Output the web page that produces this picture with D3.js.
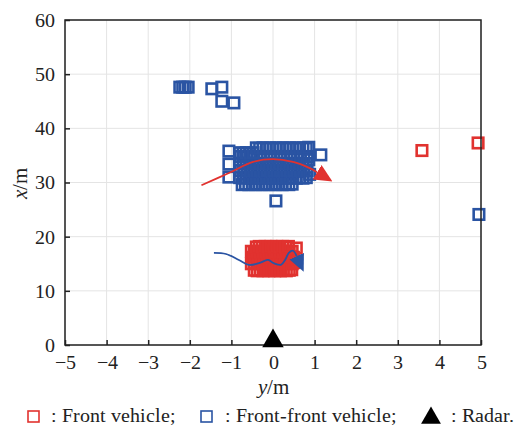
<!DOCTYPE html>
<html>
<head>
<meta charset="utf-8">
<script src="https://cdn.jsdelivr.net/npm/d3@7"></script>
<style>
  @font-face { font-family: "ChartSerif"; src: local("Liberation Serif"), local("LiberationSerif"); font-style: normal; }
  @font-face { font-family: "ChartSerif"; src: local("Liberation Serif Italic"), local("LiberationSerif-Italic"); font-style: italic; }
</style>
</head>
<body style="margin:0">
<svg id="chart" width="523" height="426"></svg>
<script>
// axis ticks
const yTicks = [-5, -4, -3, -2, -1, 0, 1, 2, 3, 4, 5];
const xTicks = [0, 10, 20, 30, 40, 50, 60];

// front vehicle detections [y, x] in metres
const frontPts = [
  [-0.45,13.8],[-0.38,13.7],[-0.31,13.8],[-0.24,13.7],[-0.17,13.8],[-0.10,13.7],[-0.03,13.8],[0.04,13.7],[0.11,13.8],[0.18,13.7],[0.25,13.8],[0.32,13.7],[0.39,13.8],[0.45,13.9],
  [-0.52,15.0],[-0.45,15.1],[-0.38,15.0],[-0.31,15.1],[-0.24,15.0],[-0.17,15.1],[-0.10,15.0],[-0.03,15.1],[0.04,15.0],[0.11,15.1],[0.18,15.0],[0.25,15.1],[0.32,15.0],[0.39,15.1],[0.46,15.0],[0.50,15.2],
  [-0.49,16.2],[-0.42,16.3],[-0.35,16.2],[-0.28,16.3],[-0.21,16.2],[-0.14,16.3],[-0.07,16.2],[0.00,16.3],[0.07,16.2],[0.14,16.3],[0.21,16.2],[0.28,16.3],[0.35,16.2],[0.42,16.3],[0.49,16.2],
  [-0.52,17.3],[-0.45,17.2],[-0.38,17.3],[-0.31,17.2],[-0.24,17.3],[-0.17,17.2],[-0.10,17.3],[-0.03,17.2],[0.04,17.3],[0.11,17.2],[0.18,17.3],[0.25,17.2],[0.32,17.3],[0.39,17.2],[0.46,17.3],
  [-0.40,18.1],[-0.33,18.2],[-0.26,18.1],[-0.19,18.2],[-0.12,18.1],[-0.05,18.2],[0.02,18.1],[0.09,18.2],[0.16,18.1],[0.23,18.2],[0.30,18.1],[0.37,18.2],[0.56,17.9],
  [3.58,35.9],[4.93,37.3]
];

// front-front vehicle detections [y, x] in metres
const frontFrontPts = [
  [-0.74,29.6],[-0.66,29.7],[-0.58,29.6],[-0.50,29.7],[-0.42,29.6],[-0.34,29.7],[-0.26,29.6],[-0.18,29.7],[-0.10,29.6],[-0.02,29.7],[0.06,29.6],[0.14,29.7],[0.22,29.6],[0.30,29.7],[0.38,29.6],[0.46,29.7],
  [-0.80,30.9],[-0.72,30.8],[-0.64,30.9],[-0.56,30.8],[-0.48,30.9],[-0.40,30.8],[-0.32,30.9],[-0.24,30.8],[-0.16,30.9],[-0.08,30.8],[0.00,30.9],[0.08,30.8],[0.16,30.9],[0.24,30.8],[0.32,30.9],[0.40,30.8],[0.48,30.9],[0.56,30.8],[0.64,30.9],[0.72,30.8],[0.80,30.9],
  [-0.78,32.2],[-0.70,32.1],[-0.62,32.2],[-0.54,32.1],[-0.46,32.2],[-0.38,32.1],[-0.30,32.2],[-0.22,32.1],[-0.14,32.2],[-0.06,32.1],[0.02,32.2],[0.10,32.1],[0.18,32.2],[0.26,32.1],[0.34,32.2],[0.42,32.1],[0.50,32.2],[0.58,32.1],[0.66,32.2],[0.74,32.1],[0.82,32.2],
  [-0.80,33.5],[-0.72,33.4],[-0.64,33.5],[-0.56,33.4],[-0.48,33.5],[-0.40,33.4],[-0.32,33.5],[-0.24,33.4],[-0.16,33.5],[-0.08,33.4],[0.00,33.5],[0.08,33.4],[0.16,33.5],[0.24,33.4],[0.32,33.5],[0.40,33.4],[0.48,33.5],[0.56,33.4],[0.64,33.5],[0.72,33.4],[0.80,33.5],
  [-0.78,34.8],[-0.70,34.7],[-0.62,34.8],[-0.54,34.7],[-0.46,34.8],[-0.38,34.7],[-0.30,34.8],[-0.22,34.7],[-0.14,34.8],[-0.06,34.7],[0.02,34.8],[0.10,34.7],[0.18,34.8],[0.26,34.7],[0.34,34.8],[0.42,34.7],[0.50,34.8],[0.58,34.7],[0.66,34.8],[0.74,34.7],[0.82,34.8],
  [-0.80,35.5],[-0.72,35.4],[-0.64,35.5],[-0.56,35.4],[-0.48,35.5],
  [-0.40,36.4],[-0.32,36.3],[-0.24,36.4],[-0.16,36.3],[-0.08,36.4],[0.00,36.3],[0.08,36.4],[0.16,36.3],[0.24,36.4],[0.32,36.3],[0.40,36.4],[0.48,36.3],[0.56,36.4],[0.64,36.3],[0.72,36.4],[0.80,36.3],
  [-1.06,35.8],[-1.06,33.4],[-1.06,31.0],[0.86,36.5],[0.86,34.2],[0.88,31.5],[1.15,35.1],
  [0.07,26.6],[4.95,24.1],
  [-2.24,47.6],[-2.17,47.6],[-2.11,47.6],[-2.04,47.6],
  [-1.47,47.3],[-1.23,47.6],[-1.23,45.0],[-0.94,44.7]
];

// tracked trajectories [y, x]
const frontTrack = [[-1.72,29.5],[-1.06,31.75],[-0.48,33.8],[0.0,34.3],[0.48,33.8],[0.87,32.7],[1.06,31.9]];
const frontFrontTrack = [[-1.42,17.0],[-1.13,16.8],[-0.82,15.7],[-0.58,14.8],[-0.34,15.1],[-0.12,15.7],[0.02,15.1],[0.19,14.8],[0.29,15.7],[0.38,17.0],[0.48,17.4],[0.57,16.4]];

const radar = [[0, 0]];

const red = "#e1322f", blue = "#2a54a3";
const serif = "ChartSerif, Liberation Serif, Tinos, FreeSerif, serif";

const svg = d3.select("#chart");
const mLeft = 65, mRight = 481, mTop = 20, mBottom = 345;

const x = d3.scaleLinear().domain([-5, 5]).range([mLeft, mRight]);
const y = d3.scaleLinear().domain([0, 60]).range([mBottom, mTop]);

// grid
svg.append("g").selectAll("line").data(yTicks).enter().append("line")
  .attr("x1", d => x(d)).attr("x2", d => x(d)).attr("y1", mTop).attr("y2", mBottom)
  .attr("stroke", "#e4e4e4").attr("stroke-width", 1);
svg.append("g").selectAll("line").data(xTicks).enter().append("line")
  .attr("x1", mLeft).attr("x2", mRight).attr("y1", d => y(d)).attr("y2", d => y(d))
  .attr("stroke", "#e4e4e4").attr("stroke-width", 1);

// detections
const sq = 10.5;
function drawSquares(pts, color) {
  svg.append("g").selectAll("rect").data(pts).enter().append("rect")
    .attr("x", d => x(d[0]) - sq / 2).attr("y", d => y(d[1]) - sq / 2)
    .attr("width", sq).attr("height", sq)
    .attr("fill", "none").attr("stroke", color).attr("stroke-width", 2.6);
}
drawSquares(frontPts, red);
drawSquares(frontFrontPts, blue);

// arrows
const defs = svg.append("defs");
function arrow(id, color, len, wid) {
  defs.append("marker").attr("id", id)
    .attr("markerUnits", "userSpaceOnUse")
    .attr("markerWidth", len + 2).attr("markerHeight", wid + 2)
    .attr("viewBox", `0 ${-wid / 2} ${len} ${wid}`)
    .attr("refX", 0).attr("refY", 0).attr("orient", "auto")
    .append("path").attr("d", `M0,${-wid / 2}L${len},0L0,${wid / 2}Z`).attr("fill", color);
}
arrow("arrRed", red, 16, 15);
arrow("arrBlue", blue, 15, 14);

const line = d3.line().x(d => x(d[0])).y(d => y(d[1])).curve(d3.curveCatmullRom);
svg.append("path").datum(frontTrack).attr("d", line)
  .attr("fill", "none").attr("stroke", red).attr("stroke-width", 1.8)
  .attr("marker-end", "url(#arrRed)");
svg.append("path").datum(frontFrontTrack).attr("d", line)
  .attr("fill", "none").attr("stroke", blue).attr("stroke-width", 1.8)
  .attr("marker-end", "url(#arrBlue)");

// frame
svg.append("rect").attr("x", mLeft).attr("y", mTop).attr("width", mRight - mLeft).attr("height", mBottom - mTop)
  .attr("fill", "none").attr("stroke", "#222").attr("stroke-width", 1.5);

// axes, ticks pointing inward
const xAxis = svg.append("g").attr("transform", `translate(0,${mBottom})`)
  .call(d3.axisBottom(x).tickValues(yTicks).tickSizeInner(-5).tickSizeOuter(0).tickPadding(10));
const yAxis = svg.append("g").attr("transform", `translate(${mLeft},0)`)
  .call(d3.axisLeft(y).tickValues(xTicks).tickSizeInner(-5).tickSizeOuter(0).tickPadding(10));
[xAxis, yAxis].forEach(a => {
  a.attr("font-family", serif).attr("font-size", 20);
  a.select(".domain").remove();
  a.selectAll(".tick line").attr("stroke", "#222").attr("stroke-width", 1.5);
  a.selectAll(".tick text").attr("fill", "#222");
});

// radar
const tri = d3.symbol().type(d3.symbolTriangle).size(200);
svg.append("g").selectAll("path").data(radar).enter().append("path")
  .attr("d", tri).attr("transform", d => `translate(${x(d[0])},${y(d[1]) - 4})`).attr("fill", "#000");

// axis titles
svg.append("text").attr("x", x(0)).attr("y", 394).attr("text-anchor", "middle")
  .attr("font-size", 21).attr("fill", "#222")
  .html('<tspan font-style="italic">y</tspan>/m');
svg.append("text").attr("transform", "translate(27,183) rotate(-90)").attr("text-anchor", "middle")
  .attr("font-size", 21).attr("fill", "#222")
  .html('<tspan font-style="italic">x</tspan>/m');

// legend
const lg = svg.append("g").attr("font-size", 20).attr("fill", "#222");
lg.append("rect").attr("x", 28).attr("y", 411).attr("width", 11).attr("height", 11)
  .attr("fill", "none").attr("stroke", red).attr("stroke-width", 1.6);
lg.append("text").attr("x", 51).attr("y", 422).text(": Front vehicle;");
lg.append("rect").attr("x", 201).attr("y", 411).attr("width", 11).attr("height", 11)
  .attr("fill", "none").attr("stroke", blue).attr("stroke-width", 1.6);
lg.append("text").attr("x", 225).attr("y", 422).text(": Front-front vehicle;");
lg.append("path").attr("d", d3.symbol().type(d3.symbolTriangle).size(170))
  .attr("transform", "translate(431,418)").attr("fill", "#000");
lg.append("text").attr("x", 451).attr("y", 422).text(": Radar.");

svg.selectAll("text").attr("font-family", serif).style("font-family", serif);
</script>
</body>
</html>
